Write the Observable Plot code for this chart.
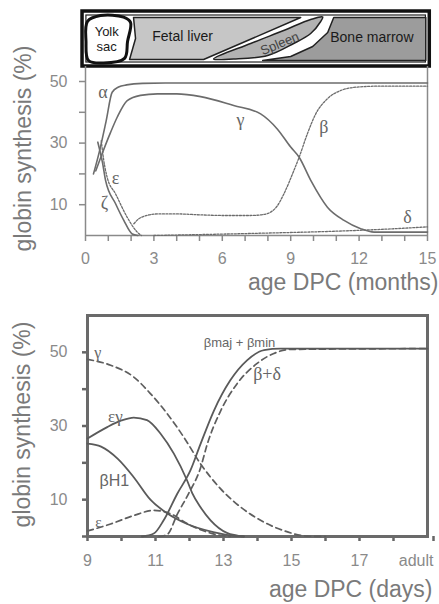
<!DOCTYPE html>
<html><head><meta charset="utf-8">
<script src="https://cdn.jsdelivr.net/npm/d3@7"></script>
<script src="https://cdn.jsdelivr.net/npm/@observablehq/plot@0.6"></script>
<style>
html,body{margin:0;padding:0;background:#fff;}
#chart svg{display:block;}
</style></head><body><div id="chart"></div>
<script>
// ===== Top chart: human, age DPC (months) vs globin synthesis (%) =====
const humanAlpha = [[0.35,20],[0.6,27],[0.9,37],[1.17,46.5],[1.45,48.2],[1.8,48.9],[2.5,49.4],[3.5,49.5],[15,49.5]];
const humanGamma = [[0.45,21],[0.7,26],[1.1,33.5],[1.39,38.4],[1.83,43.8],[2.41,45.5],[3.15,46.0],[4,46.0],[5.05,45.1],[6.5,42.2],[7.68,39.5],[8.41,34.6],[9.0,28.7],[9.37,25.4],[9.88,17.9],[10.61,9.2],[11.34,4.9],[12.07,2.2],[12.66,1.1],[15,1.1]];
const humanZeta = [[0.54,30.3],[0.75,23.5],[0.88,17.9],[1.32,10.3],[1.68,4.9],[2.05,0.5],[2.3,0]];
const humanEpsilon = [[0.69,30.8],[0.8,24.4],[0.95,18.9],[1.32,13.5],[1.83,5.9],[2.27,1.1],[2.45,0]];
const humanBeta = [[2.12,3.8],[2.3,5.2],[2.56,6.2],[3.15,7.0],[4,7.0],[5.05,6.7],[6,6.5],[7.24,6.5],[7.8,6.8],[8.12,7.6],[8.4,9.5],[8.7,13.5],[9.14,21.1],[9.37,25.4],[9.73,33.0],[10.1,39.5],[10.61,44.4],[11.2,47.1],[11.93,48.2],[12.95,48.5],[15,48.5]];
const humanDelta = [[3,0],[5,0.3],[8,0.8],[11,1.4],[13,2.0],[15,2.8]];
const topLabels = [
  {t:"α", m:0.77, v:46.5}, {t:"γ", m:6.8, v:37.5}, {t:"β", m:10.45, v:35.1},
  {t:"δ", m:14.12, v:6.0}, {t:"ε", m:1.32, v:18.7}, {t:"ζ", m:0.83, v:10.5}
];
const topXTicks = [0,1,2,3,4,5,6,7,8,9,10,11,12,13,14,15];
const topXLabels = [0,3,6,9,12,15];
const topYTicks = [10,20,30,40,50];
const topYLabels = [10,30,50];

// Header (haematopoietic sites), drawn in the top chart's coordinates (months, %)
const headerOuter = [{x1:-0.13, x2:15.1, y1:54.87, y2:72.73}];
const headerInner = [{x1:0.04, x2:14.93, y1:56.17, y2:71.43}];
const yolkSac = [[0.088,69.5],[0.658,71.4],[1.668,70.9],[1.975,69.2],[1.844,63.0],[1.712,57.5],[0.79,56.0],[0.132,56.8],[0.022,63.0]];
const fetalLiver = [[2.107,70.78],[9.438,70.78],[5.18,57.14],[1.932,57.14],[2.195,63.96]];
const spleen = [[5.619,57.31],[7.243,62.34],[8.692,66.56],[9.877,70.13],[10.404,70.94],[10.316,69.48],[9.877,65.58],[9.131,62.34],[7.99,58.44],[6.497,57.31]];
const boneMarrow = [[10.887,70.78],[14.925,70.78],[14.925,56.82],[7.77,56.82],[8.999,58.12],[9.965,61.36],[10.623,65.91]];
const headerLabels = [
  {t:"Yolk", m:0.93, v:66.0, s:13}, {t:"sac", m:0.93, v:61.2, s:13},
  {t:"Fetal liver", m:4.26, v:64.6, s:14}, {t:"Bone marrow", m:12.56, v:64.3, s:14}
];
const spleenLabel = [{t:"Spleen", m:8.52, v:62.3}];

// ===== Bottom chart: mouse, age DPC (days) vs globin synthesis (%) =====
const mouseGamma = [[9,48.1],[9.68,46.5],[10.36,43.3],[10.85,38.8],[11.34,33.4],[11.83,27.0],[12.32,19.8],[12.91,13.0],[13.5,8.0],[14.09,4.4],[14.77,1.6],[15.46,0.1],[16,0]];
const mouseEpsY = [[9,26.6],[9.58,29.7],[10,31.5],[10.36,32.3],[10.75,31.6],[11.15,27.9],[11.54,22.5],[11.93,15.2],[12.08,11.8],[12.32,8.0],[12.62,4.4],[13.1,1.0],[13.6,0]];
const mouseBetaH1 = [[9,25.2],[9.4,24.4],[9.9,21],[10.36,16.1],[10.85,10.0],[11.34,6.3],[11.93,3.4],[12.7,1.2],[13.3,0.2],[13.6,0]];
const mouseEpsilon = [[9,1.5],[9.68,3.4],[10.36,5.7],[10.95,7.1],[11.44,6.2],[11.93,3.5],[12.52,1.2],[12.9,0.3],[13.2,0]];
const mouseBetaMajMin = [[10.6,0],[10.95,0.8],[11.24,4.4],[11.64,11.6],[12.03,18],[12.32,25],[12.71,34],[13.2,42.4],[13.7,47.9],[14.19,50.6],[14.68,51],[19,51]];
const mouseBetaDelta = [[11.1,0],[11.34,0.5],[11.65,6.2],[11.97,11.6],[12.32,18.5],[12.52,25],[12.91,34],[13.4,41.5],[13.99,47],[14.48,49.7],[14.97,50.8],[19,51]];
const bottomSerifLabels = [
  {t:"γ", d:9.3, v:49.8, s:16}, {t:"εγ", d:9.82, v:32.7, s:17},
  {t:"ε", d:9.32, v:3.8, s:15}, {t:"β+δ", d:14.28, v:44.1, s:18}
];
const bottomSansLabels = [
  {t:"βH1", d:9.79, v:15.2, s:16}, {t:"βmaj + βmin", d:13.47, v:52.5, s:13}
];
const botXTicks = [9,10,11,12,13,14,15,16,17,18];
const botXLabels = [9,11,13,15,17];
const botAdultTick = [19];
const botYTicks = [0,10,20,30,40,50];
const botYLabels = [10,30,50];

const rows = a => a.map(([x, y]) => ({x, y}));
const lineGray = "#6c6c6c";
const axisGray = "#8a8a8a";
const textGray = "#7a7a7a";
const sans = "Liberation Sans, Arial, sans-serif";
const serif = "Liberation Serif, Times New Roman, serif";

const topPlot = Plot.plot({
  width: 439, height: 300,
  marginLeft: 85, marginRight: 12, marginTop: 11, marginBottom: 65,
  x: {domain: [0, 15]},
  y: {domain: [0, 72.73]},
  style: {fontFamily: sans, background: "white"},
  marks: [
    // header box
    Plot.rect(headerOuter, {x1:"x1", x2:"x2", y1:"y1", y2:"y2", fill:"white", stroke:"#111", strokeWidth:3.5}),
    Plot.rect(headerInner, {x1:"x1", x2:"x2", y1:"y1", y2:"y2", fill:"none", stroke:"#222", strokeWidth:1.2}),
    Plot.line(rows(fetalLiver), {x:"x", y:"y", curve:"linear-closed", fill:"#c6c6c6", stroke:"#222", strokeWidth:1.5}),
    Plot.line(rows(spleen), {x:"x", y:"y", curve:"catmull-rom-closed", fill:"#b2b2b2", stroke:"#222", strokeWidth:1.5}),
    Plot.line(rows(boneMarrow), {x:"x", y:"y", curve:"linear-closed", fill:"#9c9c9c", stroke:"#222", strokeWidth:1.5}),
    Plot.line(rows(yolkSac), {x:"x", y:"y", curve:"catmull-rom-closed", fill:"white", stroke:"#111", strokeWidth:3}),
    Plot.text(headerLabels, {x:"m", y:"v", text:"t", fontSize:"s", fill:"#1a1a1a", fontFamily: sans}),
    Plot.text(spleenLabel, {x:"m", y:"v", text:"t", fontSize:13, rotate:-23, fill:"#444", fontFamily: sans}),
    // axes lines
    Plot.ruleX([{x:0, y1:0, y2:54.87}, {x:15, y1:0, y2:54.87}], {x:"x", y1:"y1", y2:"y2", stroke:axisGray, strokeWidth:1.5}),
    Plot.ruleY([0], {stroke:axisGray, strokeWidth:1.5}),
    Plot.axisY({ticks: topYTicks, tickFormat: d => topYLabels.includes(d) ? String(d) : "", tickSize:6, tickPadding:12, fontSize:16, stroke:axisGray, fill:axisGray, strokeWidth:1.5, label:null}),
    Plot.axisX({ticks: topXTicks, tickFormat: d => topXLabels.includes(d) ? String(d) : "", tickSize:6, tickPadding:11, fontSize:16, stroke:axisGray, fill:axisGray, strokeWidth:1.5, label:null}),
    // series
    Plot.line(rows(humanAlpha), {x:"x", y:"y", stroke:lineGray, strokeWidth:1.6, curve:"monotone-x"}),
    Plot.line(rows(humanGamma), {x:"x", y:"y", stroke:lineGray, strokeWidth:1.6, curve:"monotone-x"}),
    Plot.line(rows(humanZeta), {x:"x", y:"y", stroke:lineGray, strokeWidth:1.6, curve:"monotone-x"}),
    Plot.line(rows(humanEpsilon), {x:"x", y:"y", stroke:lineGray, strokeWidth:1.3, strokeDasharray:"2,1.5", curve:"monotone-x"}),
    Plot.line(rows(humanBeta), {x:"x", y:"y", stroke:lineGray, strokeWidth:1.3, strokeDasharray:"2,1.5", curve:"monotone-x"}),
    Plot.line(rows(humanDelta), {x:"x", y:"y", stroke:lineGray, strokeWidth:1.3, strokeDasharray:"2,1.5", curve:"monotone-x"}),
    Plot.text(topLabels, {x:"m", y:"v", text:"t", fontSize:18, fontFamily: serif, fill:"#666"}),
    // axis titles
    Plot.text(["age DPC (months)"], {frameAnchor:"bottom-right", textAnchor:"end", lineAnchor:"middle", dx:11, dy:47.6, fontSize:23, fill:textGray}),
    Plot.text(["globin synthesis (%)"], {frameAnchor:"left", textAnchor:"middle", lineAnchor:"middle", rotate:-90, dx:-62, dy:25, fontSize:23, fill:textGray})
  ]
});

const botPlot = Plot.plot({
  width: 439, height: 304,
  marginLeft: 87, marginRight: 12, marginTop: 15, marginBottom: 68,
  x: {domain: [9, 19]},
  y: {domain: [0, 60]},
  style: {fontFamily: sans, background: "white"},
  marks: [
    Plot.axisY({ticks: botYTicks, tickFormat: d => botYLabels.includes(d) ? String(d) : "", tickSize:5, tickPadding:15, fontSize:16, stroke:"#666", fill:axisGray, strokeWidth:2.5, label:null}),
    Plot.axisX({ticks: botXTicks, tickFormat: d => botXLabels.includes(d) ? String(d) : "", tickSize:5, tickPadding:13, fontSize:16, stroke:"#666", fill:axisGray, strokeWidth:2.5, label:null}),
    Plot.axisX({ticks: botAdultTick, tickFormat: () => "adult", tickSize:5, tickPadding:13, fontSize:16, stroke:"#666", fill:axisGray, strokeWidth:2.5, textAnchor:"end", dx:6, label:null}),
    Plot.frame({stroke:"#6a6a6a", strokeWidth:3}),
    Plot.line(rows(mouseGamma), {x:"x", y:"y", stroke:"#5e5e5e", strokeWidth:1.7, strokeDasharray:"6,4", curve:"monotone-x"}),
    Plot.line(rows(mouseEpsilon), {x:"x", y:"y", stroke:"#5e5e5e", strokeWidth:1.7, strokeDasharray:"6,4", curve:"monotone-x"}),
    Plot.line(rows(mouseBetaDelta), {x:"x", y:"y", stroke:"#5e5e5e", strokeWidth:1.7, strokeDasharray:"6,4", curve:"monotone-x"}),
    Plot.line(rows(mouseEpsY), {x:"x", y:"y", stroke:"#5a5a5a", strokeWidth:1.8, curve:"monotone-x"}),
    Plot.line(rows(mouseBetaH1), {x:"x", y:"y", stroke:"#5a5a5a", strokeWidth:1.8, curve:"monotone-x"}),
    Plot.line(rows(mouseBetaMajMin), {x:"x", y:"y", stroke:"#5a5a5a", strokeWidth:1.8, curve:"monotone-x"}),
    Plot.text(bottomSerifLabels, {x:"d", y:"v", text:"t", fontSize:"s", fontFamily: serif, fill:"#666"}),
    Plot.text(bottomSansLabels, {x:"d", y:"v", text:"t", fontSize:"s", fontFamily: sans, fill:"#666"}),
    Plot.text(["age DPC (days)"], {frameAnchor:"bottom-right", textAnchor:"end", lineAnchor:"middle", dx:5, dy:53.5, fontSize:23, fill:textGray}),
    Plot.text(["globin synthesis (%)"], {frameAnchor:"left", textAnchor:"middle", lineAnchor:"middle", rotate:-90, dx:-64.4, dy:-1.5, fontSize:23, fill:textGray})
  ]
});

document.getElementById("chart").append(topPlot, botPlot);
</script>
</body></html>
